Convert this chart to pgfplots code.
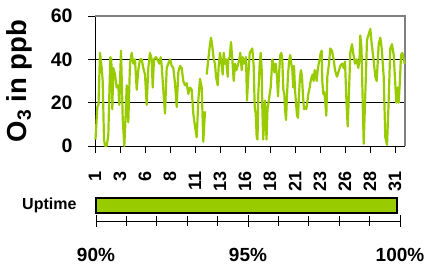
\documentclass[border=0pt]{standalone}
\usepackage{pgfplots}
\pgfplotsset{compat=1.18}
\usepackage{fontspec}
\setmainfont{Liberation Sans}
\definecolor{lime}{HTML}{99CC00}
\definecolor{framegray}{HTML}{808080}
\pgfplotstableread{
day o3
1.05 3
1.23 18
1.35 19
1.5 43
1.67 36
1.77 30
1.9 3
2.0 0
2.17 0
2.33 5
2.53 41
2.63 40
2.73 17
2.83 36
3.0 33
3.17 27
3.33 28
3.43 19
3.6 44
3.77 13
3.93 0
4.03 10
4.17 28
4.33 11
4.5 38
4.67 43
4.83 38
5.0 40
5.17 26
5.33 35
5.5 40
5.67 40
5.83 36
6.0 33
6.17 19
6.33 36
6.5 43
6.67 40
6.77 27
6.9 40
7.1 41
7.23 40
7.43 38
7.57 41
7.67 37
7.83 26
8.0 15
8.17 36
8.33 38
8.5 40
8.67 37
8.83 36
9.0 29
9.17 18
9.33 34
9.5 37
9.67 36
9.83 30
10.0 28
10.17 29
10.33 24
10.5 27
10.67 26
10.83 15
11.0 9
11.17 4
11.33 21
11.5 31
11.67 27
11.83 2
12.0 16
12.08 nan
12.17 33
12.33 40
12.5 47
12.6 50
12.73 46
12.87 40
13.0 38
13.1 32
13.27 28
13.37 37
13.5 43
13.67 37
13.77 33
13.87 43
14.0 38
14.1 40
14.27 32
14.33 40
14.47 41
14.6 48
14.73 40
14.87 30
15.0 38
15.13 35
15.27 37
15.43 40
15.53 43
15.67 35
15.77 41
15.9 38
16.0 40
16.1 41
16.2 21
16.33 32
16.47 43
16.6 44
16.73 45
16.87 37
16.97 18
17.07 15
17.17 4
17.25 3
17.33 24
17.47 38
17.57 43
17.67 35
17.73 18
17.82 3
17.9 10
18.0 21
18.15 3
18.25 17
18.35 20
18.47 24
18.57 27
18.73 40
18.83 38
18.93 34
19.07 38
19.2 32
19.3 23
19.4 33
19.53 42
19.63 43
19.73 40
19.83 26
19.93 24
20.0 17
20.1 12
20.2 23
20.3 33
20.43 40
20.53 42
20.63 38
20.73 35
20.83 27
20.9 37
21.0 26
21.1 20
21.2 14
21.3 13
21.4 24
21.5 32
21.6 35
21.7 32
21.8 23
21.9 17
22.0 18
22.13 17
22.23 20
22.33 24
22.47 27
22.57 30
22.67 32
22.77 33
22.87 30
22.97 35
23.07 34
23.17 30
23.27 35
23.37 38
23.47 40
23.57 43
23.67 44
23.73 30
23.83 24
23.93 25
24.03 20
24.13 14
24.23 32
24.4 38
24.53 45
24.7 44
24.87 40
25.0 35
25.2 32
25.33 34
25.53 37
25.7 38
25.87 36
26.0 39
26.15 20
26.27 9
26.4 25
26.53 43
26.7 47
26.85 42
27.0 38
27.17 40
27.33 36
27.45 40
27.53 51
27.65 45
27.77 20
27.87 1
28.03 24
28.2 49
28.33 51
28.53 54
28.67 47
28.83 41
29.03 32
29.17 30
29.37 47
29.53 50
29.67 45
29.87 32
30.03 4
30.2 0.5
30.33 16
30.53 45
30.7 47
30.87 42
31.0 31
31.13 20
31.27 27
31.37 20
31.5 31
31.6 42
31.73 43
31.87 40
31.97 38
}\ozone
\begin{document}
\begin{tikzpicture}
\useasboundingbox (0,0) rectangle (427pt,266pt);
\begin{axis}[
  at={(95pt,120pt)}, anchor=south west,
  scale only axis, width=310pt, height=130pt,
  xmin=1, xmax=32, ymin=0, ymax=60,
  axis x line*=bottom, axis y line*=left,
  axis line style={-, black, line width=1pt},
  ytick={0,20,40,60},
  xtick={1,3.5,6,8.5,11,13.5,16,18.5,21,23.5,26,28.5,31},
  xticklabels={1,3,6,8,11,13,16,18,21,23,26,28,31},
  tick align=outside, major tick length=7pt,
  tick style={black, line width=0.8pt},
  ymajorgrids, grid style={black, line width=0.8pt},
  /pgf/number format/assume math mode=true,
  yticklabel style={font=\fontsize{19.5}{19.5}\selectfont\bfseries, xshift=-12pt},
  xticklabel style={font=\fontsize{18}{18}\selectfont\bfseries, rotate=90, anchor=east, xshift=-15pt},
  ylabel={O\textsubscript{3} in ppb},
  every axis y label/.style={at={([xshift=-76pt]axis description cs:0,0.5)}, rotate=90, anchor=center},
  ylabel style={font=\fontsize{27.5}{27.5}\selectfont\bfseries},
  unbounded coords=jump,
  clip=false,
]
\draw[framegray, line width=2pt] (rel axis cs:0,1) -- (rel axis cs:1,1) -- (rel axis cs:1,0);
\addplot[lime, line width=2.2pt, line join=round, mark=none] table[x=day, y=o3] {\ozone};
\end{axis}
\begin{axis}[
  at={(96pt,45pt)}, anchor=south west,
  scale only axis, width=304pt, height=23pt,
  xmin=90, xmax=100, ymin=0, ymax=23,
  axis x line=bottom, axis y line=left,
  y axis line style={draw=none},
  x axis line style={-, black, line width=1pt},
  xtick={90,95,100}, xticklabels={90\%,95\%,100\%},
  minor xtick={91,92,93,94,96,97,98,99},
  tick align=center,
  major tick length=12pt, minor tick length=10pt,
  xtick style={black, line width=0.8pt}, ytick style={draw=none},
  ytick={15.5}, yticklabels={Uptime},
  xticklabel style={font=\fontsize{19}{19}\selectfont\bfseries, yshift=-18pt},
  yticklabel style={font=\fontsize{16}{16}\selectfont\bfseries, xshift=-10pt},
  clip=false,
]
\addplot[fill=lime, draw=black, line width=2pt] coordinates {(90,8) (99.9,8) (99.9,23) (90,23)} -- cycle;
\end{axis}
\end{tikzpicture}
\end{document}
